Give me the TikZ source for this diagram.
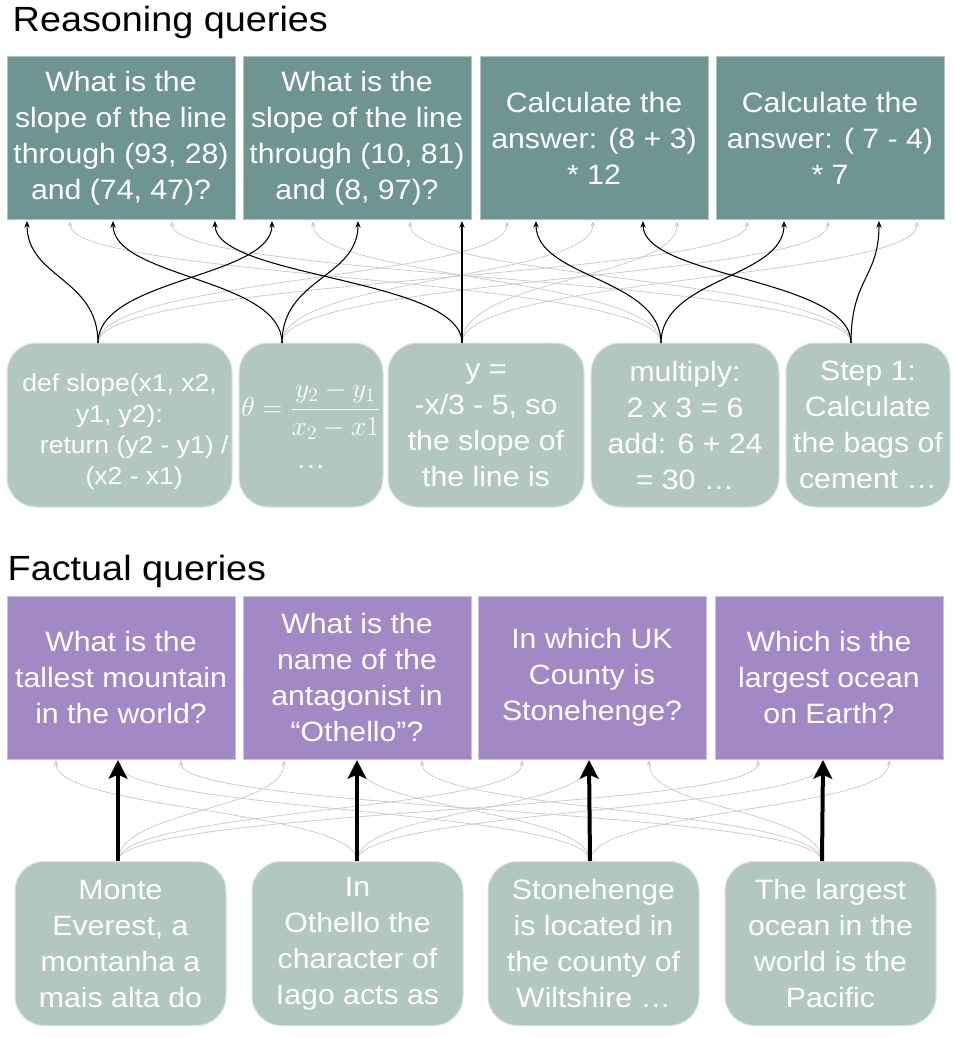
\documentclass[tikz,border=0pt]{standalone}
\usepackage{fontspec}
\setmainfont{Liberation Sans}[FakeStretch=1.08]
\usetikzlibrary{arrows.meta}
\definecolor{reasonfill}{HTML}{6E9592}
\definecolor{docfill}{HTML}{B2C8BE}
\definecolor{factfill}{HTML}{A189C5}
\colorlet{linkgray}{gray!40}
\tikzset{
  query/.style = {minimum width=171pt, minimum height=122.25pt, inner sep=0pt, align=center, text=white, line width=0.75pt, font=\fontsize{21}{27}\selectfont},
  reasoning/.style = {query, fill=reasonfill, draw=reasonfill!55!white},
  factual/.style = {query, fill=factfill, draw=factfill!55!white},
  doc/.style = {rounded corners=22pt, minimum height=123pt, inner sep=0pt, align=center, text=white, fill=docfill, draw=docfill!50!white, line width=0.75pt, font=\fontsize{21}{27}\selectfont},
  weaklink/.style = {draw=linkgray, line width=0.6pt, -{Stealth[length=4.5pt,width=3.5pt]}},
  stronglink/.style = {draw=black, line width=0.8pt, -{Stealth[length=5pt,width=4pt]}},
  factlink/.style = {draw=black, line width=3pt, -{Stealth[length=14pt,width=14pt,inset=3pt]}}
}
\tikzset{>=Stealth}

\begin{document}
\begin{tikzpicture}[x=0.75pt,y=-0.75pt]
  \useasboundingbox (0,0) rectangle (953,1037);
  % titles
  \node[anchor=base west, font=\fontsize{26.25}{30}\selectfont] (rtitle) at (8,32) {Reasoning queries};
  \node[anchor=base west, font=\fontsize{26.25}{30}\selectfont] (ftitle) at (3,580) {Factual queries};
  % reasoning queries
  \node[reasoning] (rq1) at (121,138.5) {What is the\\slope of the line\\through (93, 28)\\and (74, 47)?};
  \node[reasoning] (rq2) at (357,138.5) {What is the\\slope of the line\\through (10, 81)\\and (8, 97)?};
  \node[reasoning] (rq3) at (594,138.5) {Calculate the\\answer: (8 + 3)\\{}* 12};
  \node[reasoning] (rq4) at (830,138.5) {Calculate the\\answer: ( 7 - 4)\\{}* 7};
  % reasoning documents
  \node[doc, minimum width=168.75pt, font=\fontsize{18.4}{23.25}\selectfont] (rd1) at (119.5,425) {\rule{0pt}{24pt}def slope(x1, x2,\\y1, y2):\\\hspace*{1.2em}return (y2 - y1) /\\\hspace*{1.2em}(x2 - x1)};
  \node[doc, minimum width=108pt] (rd2) at (311,425) {$\theta=\displaystyle\frac{y_2-y_1}{x_2-x1}$\\[12pt]…};
  \node[doc, minimum width=147pt] (rd3) at (486,425) {y =\\-x/3 - 5, so\\the slope of\\the line is};
  \node[doc, minimum width=141pt] (rd4) at (685,425) {multiply:\\2 x 3 = 6\\add: 6 + 24\\= 30 …};
  \node[doc, minimum width=123pt] (rd5) at (868,425) {Step 1:\\Calculate\\the bags of\\cement …};
  % factual queries
  \node[factual] (fq1) at (121,677.5) {What is the\\tallest mountain\\in the world?};
  \node[factual] (fq2) at (357,677.5) {What is the\\name of the\\antagonist in\\“Othello”?};
  \node[factual] (fq3) at (592,677.5) {In which UK\\County is\\Stonehenge?};
  \node[factual] (fq4) at (829,677.5) {Which is the\\largest ocean\\on Earth?};
  % factual documents
  \node[doc, minimum width=158.25pt] (fd1) at (120.5,943.5) {Monte\\Everest, a\\montanha a\\mais alta do};
  \node[doc, minimum width=158.25pt] (fd2) at (357.5,943.5) {In\\Othello the\\character of\\Iago acts as};
  \node[doc, minimum width=158.25pt] (fd3) at (593.5,943.5) {Stonehenge\\is located in\\the county of\\Wiltshire …};
  \node[doc, minimum width=158.25pt] (fd4) at (830.5,943.5) {The largest\\ocean in the\\world is the\\Pacific};
  % link ends
  \foreach \d/\x in {rd1/98, rd2/282, rd3/462, rd4/661, rd5/851}
    \coordinate (\d-o) at (\x,343);
  \foreach \q/\xs in {rq1/{27,70,113,172,215}, rq2/{272,313,358,410,462}, rq3/{507,536,593,643,677}, rq4/{747,784,828,879,917}}
    \foreach \x [count=\i] in \xs
      \coordinate (\q-\i) at (\x,221);
  \foreach \d/\x in {fd1/118, fd2/357, fd3/590, fd4/822}
    \coordinate (\d-o) at (\x,861);
  \foreach \q/\xs in {fq1/{56,118,181}, fq2/{284,357,422}, fq3/{522,589,649}, fq4/{758,823,889}}
    \foreach \x [count=\i] in \xs
      \coordinate (\q-\i) at (\x,760);
  % reasoning links
  \foreach \s/\t in {rd4/rq1-2, rd5/rq1-4, rd4/rq2-2, rd5/rq2-4, rd1/rq3-1, rd2/rq3-3, rd3/rq3-5, rd1/rq4-1, rd2/rq4-3, rd3/rq4-5}
    \draw[weaklink] (\s-o) .. controls +(0,-65) and +(0,57) .. (\t);
  \foreach \s/\t in {rd1/rq1-1, rd2/rq1-3, rd3/rq1-5, rd1/rq2-1, rd2/rq2-3, rd3/rq2-5, rd4/rq3-2, rd5/rq3-4, rd4/rq4-2, rd5/rq4-4}
    \draw[stronglink] (\s-o) .. controls +(0,-65) and +(0,57) .. (\t);
  % factual links
  \foreach \s/\t in {fd2/fq1-1, fd3/fq1-2, fd4/fq1-3, fd1/fq2-1, fd3/fq2-2, fd4/fq2-3, fd1/fq3-1, fd2/fq3-2, fd4/fq3-3, fd1/fq4-1, fd2/fq4-2, fd3/fq4-3}
    \draw[weaklink] (\s-o) .. controls +(0,-51) and +(0,50) .. (\t);
  \foreach \s/\t in {fd1/fq1-2, fd2/fq2-2, fd3/fq3-2, fd4/fq4-2}
    \draw[factlink] (\s-o) -- (\t);
\end{tikzpicture}
\end{document}
